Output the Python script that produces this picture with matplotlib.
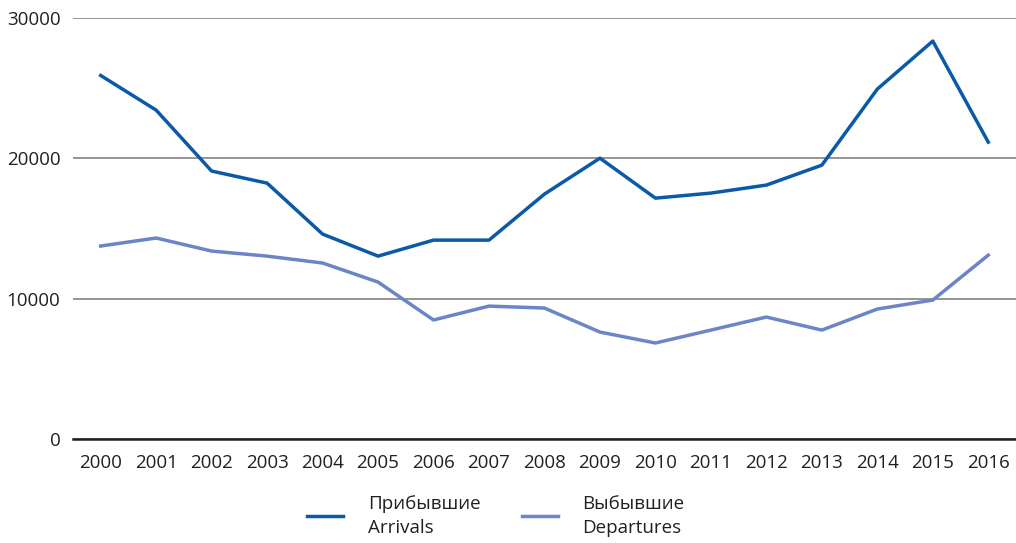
import matplotlib
matplotlib.use('Agg')
import matplotlib.pyplot as plt

years = ['2000', '2001', '2002', '2003', '2004', '2005', '2006', '2007', '2008',
         '2009', '2010', '2011', '2012', '2013', '2014', '2015', '2016']
arrivals = [25900, 23430, 19090, 18230, 14600, 13030, 14170, 14170, 17450,
            20010, 17160, 17520, 18090, 19510, 24930, 28350, 21150]
departures = [13750, 14320, 13390, 13030, 12540, 11180, 8480, 9470, 9330,
              7620, 6840, 7760, 8690, 7760, 9260, 9900, 13100]
series_labels = ['Прибывшие\nArrivals', 'Выбывшие\nDepartures']

plt.rcParams['font.family'] = ['Open Sans', 'DejaVu Sans']

fig = plt.figure(figsize=(10.16, 5.43), dpi=100)
ax = fig.add_axes([0.0718, 0.1915, 0.9282, 0.7755])

x = list(range(len(years)))
ax.plot(x, arrivals, color='#0a5aa8', lw=2.5, label=series_labels[0])
ax.plot(x, departures, color='#6b86c6', lw=2.5, label=series_labels[1])

ax.set_xlim(-0.5, len(years) - 0.5)
ax.set_ylim(0, 30000)
ax.set_yticks([0, 10000, 20000, 30000])
ax.set_yticklabels(['0', '10000', '20000', '30000'])
ax.set_xticks(x)
ax.set_xticklabels(years)
ax.grid(axis='y', color='#8c8c8c', lw=1.3)
ax.set_axisbelow(True)
for s in ['top', 'right', 'left']:
    ax.spines[s].set_visible(False)
ax.spines['bottom'].set_color('#231f20')
ax.spines['bottom'].set_linewidth(1.8)
ax.tick_params(length=0, colors='#231f20', labelsize=13.5)
ax.tick_params(axis='y', pad=9)
ax.tick_params(axis='x', pad=11)

leg = fig.legend(loc='center', bbox_to_anchor=(0.488, 0.05), ncol=2, frameon=False,
                 handlelength=1.95, handletextpad=1.3, columnspacing=2.2, fontsize=13.5)
for t in leg.get_texts():
    t.set_linespacing(1.45)
    t.set_color('#231f20')

fig.savefig('out.png', dpi=100)
